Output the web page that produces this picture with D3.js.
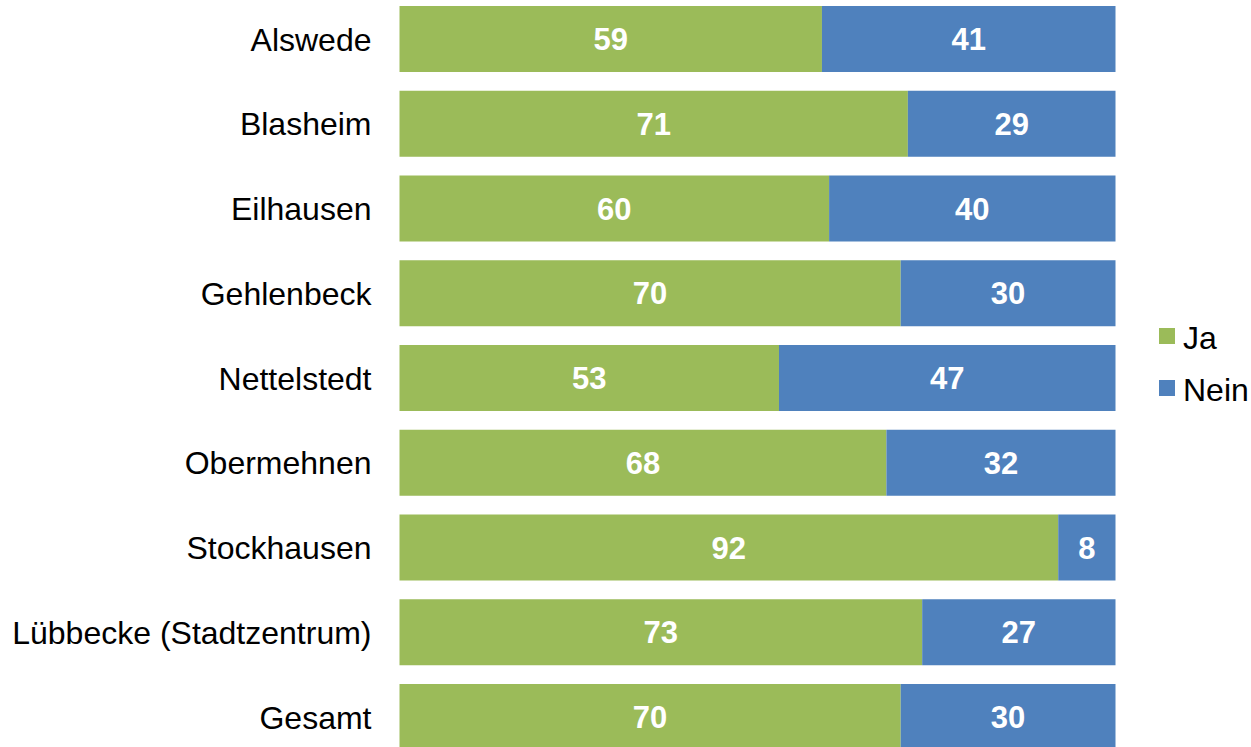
<!DOCTYPE html>
<html>
<head>
<meta charset="utf-8">
<script src="https://cdn.jsdelivr.net/npm/d3@7"></script>
<style>
  html, body { margin: 0; padding: 0; background: #fff; }
  svg { display: block; }
</style>
</head>
<body>
<svg id="chart" width="1251" height="747"></svg>
<script>
// Ortsteile and their Ja/Nein shares (percent)
const categories = ["Alswede", "Blasheim", "Eilhausen", "Gehlenbeck", "Nettelstedt",
  "Obermehnen", "Stockhausen", "Lübbecke (Stadtzentrum)", "Gesamt"];
const jaValues = [59, 71, 60, 70, 53, 68, 92, 73, 70];
const neinValues = [41, 29, 40, 30, 47, 32, 8, 27, 30];
const seriesNames = ["Ja", "Nein"];
const seriesColors = ["#9BBB59", "#4F81BD"];

const svg = d3.select("#chart");
const font = "'Liberation Sans', Arial, sans-serif";

const x = d3.scaleLinear().domain([0, 100]).range([399.5, 1115.5]);
const y = d3.scaleBand().domain(categories).range([-3.375, 759.375])
  .paddingInner(0.2212).paddingOuter(0.1106);

const rows = categories.map((c, i) => ({ cat: c, vals: [jaValues[i], neinValues[i]] }));
const stack = d3.stack().keys([0, 1]).value((d, k) => d.vals[k]);
const layers = stack(rows);

const g = svg.append("g");
layers.forEach((layer, k) => {
  const lg = g.append("g");
  lg.selectAll("rect").data(layer).join("rect")
    .attr("x", d => x(d[0]))
    .attr("y", d => y(d.data.cat))
    .attr("width", d => x(d[1]) - x(d[0]))
    .attr("height", y.bandwidth())
    .attr("fill", seriesColors[k]);
  lg.selectAll("text").data(layer).join("text")
    .attr("x", d => (x(d[0]) + x(d[1])) / 2)
    .attr("y", d => y(d.data.cat) + y.bandwidth() / 2)
    .attr("dy", "0.36em")
    .attr("text-anchor", "middle")
    .attr("fill", "#fff")
    .attr("font-family", font)
    .attr("font-weight", "bold")
    .attr("font-size", 31)
    .text(d => d.data.vals[k]);
});

// Category axis labels
const yAxis = d3.axisLeft(y).tickSize(0).tickPadding(28);
const ax = svg.append("g").attr("transform", `translate(${x(0)},0)`).call(yAxis);
ax.select(".domain").remove();
ax.selectAll("text")
  .attr("font-family", font)
  .attr("font-size", 32)
  .attr("fill", "#000")
  .attr("dy", "0.36em");

// Legend
const legend = svg.append("g").attr("transform", "translate(1159,328)");
seriesNames.forEach((name, i) => {
  const item = legend.append("g").attr("transform", `translate(0,${i * 52})`);
  item.append("rect").attr("width", 16).attr("height", 16).attr("fill", seriesColors[i]);
  item.append("text").attr("x", 24).attr("y", 9).attr("dy", "0.36em")
    .attr("font-family", font).attr("font-size", 32).attr("fill", "#000").text(name);
});
</script>
</body>
</html>
